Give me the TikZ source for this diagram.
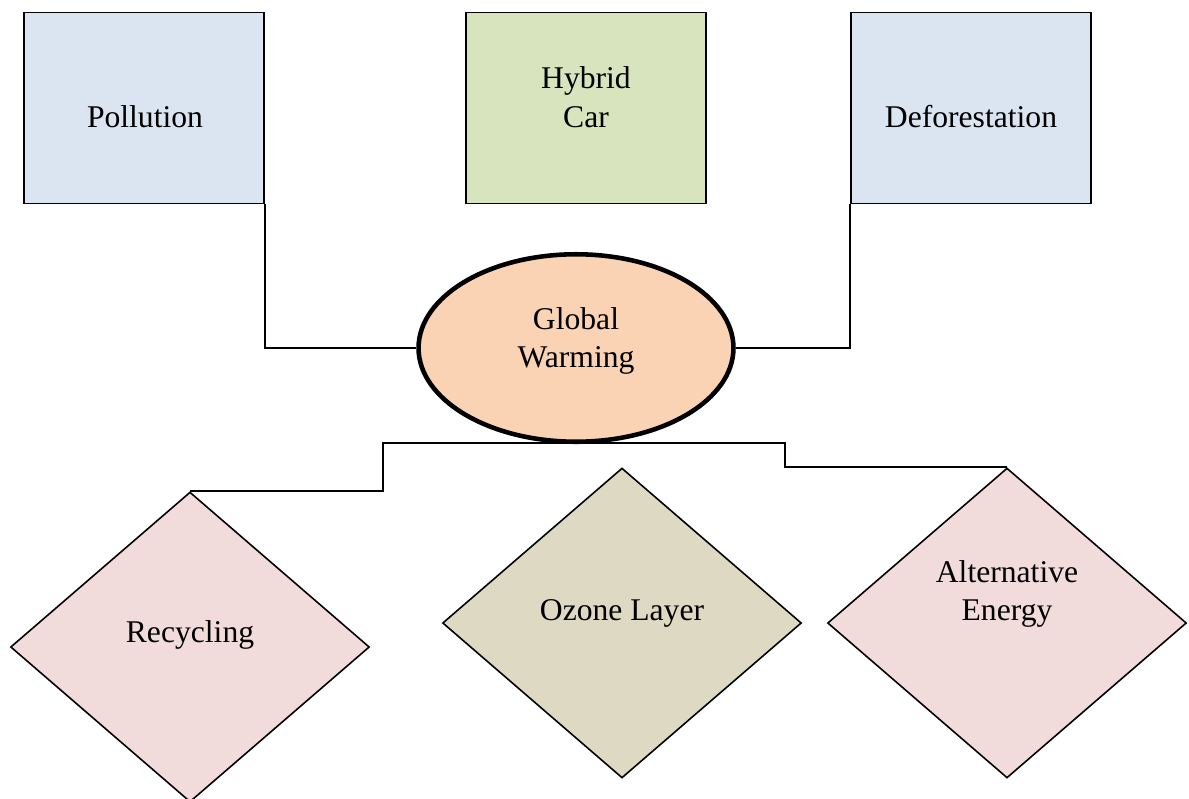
\documentclass[tikz,border=0pt]{standalone}
\usepackage{fontspec}
\setmainfont{Liberation Serif}
\usetikzlibrary{shapes.geometric}
\definecolor{boxblue}{HTML}{DBE5F1}
\definecolor{boxgreen}{HTML}{D7E4BD}
\definecolor{peach}{HTML}{FAD3B4}
\definecolor{rosy}{HTML}{F2DCDB}
\definecolor{khaki}{HTML}{DDD9C3}
\begin{document}
\begin{tikzpicture}[x=0.02cm,y=-0.02cm,
  topic/.style={draw,line width=0.9pt,minimum width=4.8cm,minimum height=3.82cm,inner sep=0pt},
  hub/.style={draw,shape=ellipse,line width=2.6pt,fill=peach,minimum width=6.3cm,minimum height=3.75cm,inner sep=0pt},
  remedy/.style={draw,shape=diamond,line width=0.9pt,minimum width=7.18cm,minimum height=6.2cm,inner sep=0pt},
  words/.style={font=\fontsize{18}{22}\selectfont,align=center}]
\useasboundingbox (0,0) rectangle (1189,798);
\node [topic,fill=boxblue,name=pollution] at (144,108){};
\node [topic,fill=boxgreen,name=hybrid] at (586,108){};
\node [topic,fill=boxblue,name=defor] at (971,108){};
\node [hub,name=gw] at (576,348){};
\node [remedy,fill=rosy,name=recycling] at (190,647){};
\node [remedy,fill=khaki,name=ozone] at (622,623){};
\node [remedy,fill=rosy,name=altenergy] at (1007,623){};
% labels
\node [words,anchor=base,name=pollution-t] at (145,127){Pollution};
\node [words,name=hybrid-t] at (586,97){Hybrid\\Car};
\node [words,anchor=base,name=defor-t] at (971,127){Deforestation};
\node [words,name=gw-t] at (576,341){Global\\Warming};
\node [words,anchor=base,name=recycling-t] at (190,642){Recycling};
\node [words,anchor=base,name=ozone-t] at (622,620){Ozone Layer};
\node [words,name=altenergy-t] at (1007,594){Alternative\\Energy};
% connectors
\coordinate (split-l) at (383,443);
\coordinate (split-r) at (785,443);
\draw[line width=1pt] (pollution.south east)|-(gw.west);
\draw[line width=1pt] (defor.south west)|-(gw.east);
\draw[line width=1pt] (recycling.north)-|(split-l)--(split-r)|-(altenergy.north);
\end{tikzpicture}
\end{document}
